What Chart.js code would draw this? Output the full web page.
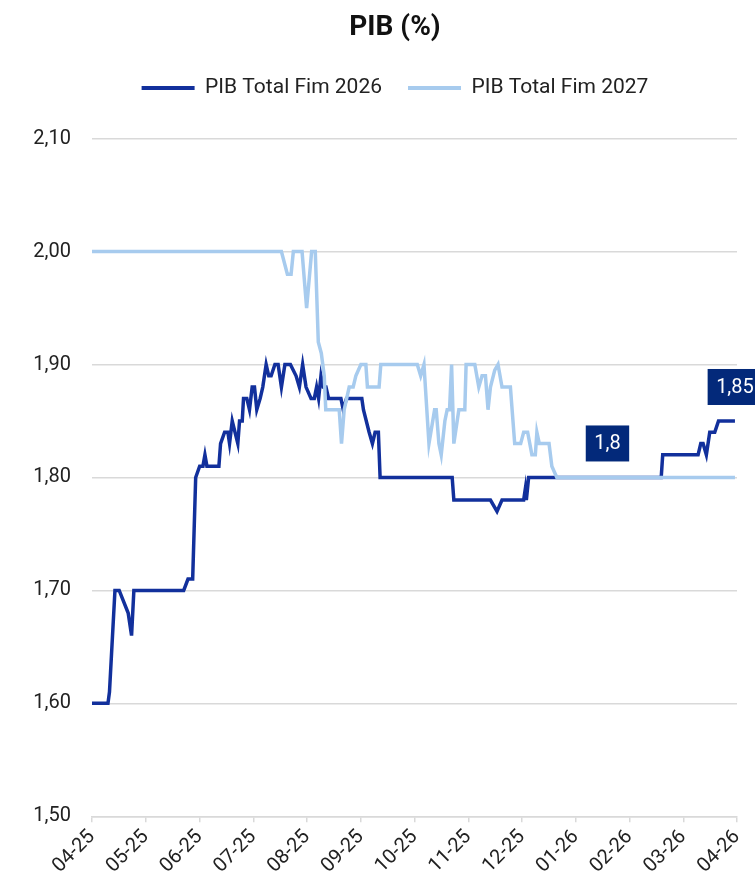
<!DOCTYPE html>
<html>
<head>
<meta charset="utf-8">
<script src="https://cdn.jsdelivr.net/npm/chart.js@4/dist/chart.umd.min.js"></script>
<style>
  html, body { margin: 0; padding: 0; background: #fff; overflow: hidden; }
  .wrap { width: 790px; height: 891px; }
</style>
</head>
<body>
<div class="wrap"><canvas id="pibChart" width="790" height="891"></canvas></div>
<script>
// x values are in months from 04-25 (0) to 04-26 (12)
const monthLabels = ['04-25', '05-25', '06-25', '07-25', '08-25', '09-25', '10-25', '11-25', '12-25', '01-26', '02-26', '03-26', '04-26'];
const yTicks = [1.5, 1.6, 1.7, 1.8, 1.9, 2.0, 2.1];

const pib2026X = [0, 0.297, 0.325, 0.427, 0.506, 0.673, 0.736, 0.779, 1.706, 1.786, 1.873, 1.929, 2.003, 2.064, 2.101, 2.138,
  2.361, 2.392, 2.467, 2.528, 2.559, 2.609, 2.713, 2.745, 2.795, 2.819, 2.880, 2.930, 2.980, 3.023, 3.066, 3.129, 3.177,
  3.240, 3.288, 3.333, 3.403, 3.463, 3.524, 3.589, 3.691, 3.796, 3.858, 3.919, 3.982, 4.075, 4.136, 4.178, 4.216, 4.260,
  4.303, 4.353, 4.401, 4.631, 4.674, 4.735, 5.020, 5.050, 5.156, 5.217, 5.267, 5.328, 5.360, 6.701, 6.732, 7.413, 7.535,
  7.628, 8.031, 8.062, 8.081, 8.123, 10.590, 10.618, 11.276, 11.326, 11.369, 11.430, 11.493, 11.586, 11.656, 11.962];
const pib2026 = [1.60, 1.60, 1.61, 1.70, 1.70, 1.68, 1.66, 1.70, 1.70, 1.71, 1.71, 1.80, 1.81, 1.81, 1.82, 1.81,
  1.81, 1.83, 1.84, 1.84, 1.83, 1.85, 1.83, 1.85, 1.85, 1.87, 1.87, 1.86, 1.88, 1.88, 1.86, 1.87, 1.88,
  1.90, 1.89, 1.89, 1.90, 1.90, 1.88, 1.90, 1.90, 1.89, 1.88, 1.90, 1.88, 1.87, 1.87, 1.88, 1.87, 1.89,
  1.88, 1.88, 1.87, 1.87, 1.86, 1.87, 1.87, 1.86, 1.84, 1.83, 1.84, 1.84, 1.80, 1.80, 1.78, 1.78, 1.77,
  1.78, 1.78, 1.79, 1.78, 1.80, 1.80, 1.82, 1.82, 1.83, 1.83, 1.82, 1.84, 1.84, 1.85, 1.85];

const pib2027X = [0, 3.524, 3.635, 3.704, 3.746, 3.908, 3.993, 4.086, 4.154, 4.210, 4.266, 4.321, 4.349, 4.599, 4.642,
  4.692, 4.785, 4.859, 4.909, 5.002, 5.095, 5.124, 5.341, 5.373, 6.052, 6.115, 6.176, 6.269, 6.374, 6.404, 6.454, 6.497,
  6.565, 6.608, 6.652, 6.690, 6.732, 6.825, 6.936, 6.960, 7.122, 7.196, 7.257, 7.320, 7.368, 7.413, 7.493, 7.554, 7.628,
  7.784, 7.864, 7.975, 8.031, 8.105, 8.184, 8.248, 8.277, 8.322, 8.503, 8.555, 8.648, 11.962];
const pib2027 = [2.00, 2.00, 1.98, 1.98, 2.00, 2.00, 1.95, 2.00, 2.00, 1.92, 1.91, 1.89, 1.86, 1.86, 1.83,
  1.86, 1.88, 1.88, 1.89, 1.90, 1.90, 1.88, 1.88, 1.90, 1.90, 1.89, 1.90, 1.83, 1.86, 1.86, 1.83, 1.82,
  1.85, 1.86, 1.86, 1.90, 1.83, 1.86, 1.86, 1.90, 1.90, 1.88, 1.89, 1.89, 1.86, 1.88, 1.895, 1.90, 1.88,
  1.88, 1.83, 1.83, 1.84, 1.84, 1.82, 1.82, 1.84, 1.83, 1.83, 1.81, 1.80, 1.80];

function toPoints(xs, ys) {
  return xs.map((x, i) => ({ x: x, y: ys[i] }));
}

const darkBlue = '#12309c';
const lightBlue = '#a7cbee';
const labelBg = '#03297a';
const fontFamily = 'Roboto, "Noto Sans", sans-serif';

// extra gap under the legend
const legendGap = {
  id: 'legendGap',
  beforeInit(chart) {
    const fit = chart.legend.fit;
    chart.legend.fit = function() {
      fit.bind(chart.legend)();
      this.height += 30;
    };
  }
};

// value boxes ("1,8" and "1,85")
const valueBoxes = {
  id: 'valueBoxes',
  afterDatasetsDraw(chart) {
    const ctx = chart.ctx;
    const xScale = chart.scales.x;
    const yScale = chart.scales.y;
    const boxes = [
      { text: '1,8', x: 9.59, y: pib2027[pib2027.length - 1] },
      { text: '1,85', x: pib2026X[pib2026X.length - 1], y: pib2026[pib2026.length - 1] }
    ];
    ctx.save();
    ctx.font = '20px ' + fontFamily;
    ctx.textAlign = 'center';
    ctx.textBaseline = 'middle';
    boxes.forEach(b => {
      const px = xScale.getPixelForValue(b.x);
      const py = yScale.getPixelForValue(b.y) - 34;
      const w = ctx.measureText(b.text).width + 17;
      const h = 36;
      ctx.fillStyle = labelBg;
      ctx.fillRect(px - w / 2, py - h / 2, w, h);
      ctx.fillStyle = '#fff';
      ctx.fillText(b.text, px, py + 1);
    });
    ctx.restore();
  }
};

const ctx = document.getElementById('pibChart').getContext('2d');
const pibChart = new Chart(ctx, {
  type: 'line',
  data: {
    datasets: [{
      label: 'PIB Total Fim 2026',
      data: toPoints(pib2026X, pib2026),
      borderColor: darkBlue,
      backgroundColor: darkBlue,
      borderWidth: 3.5,
      pointRadius: 0,
      tension: 0,
      order: 2
    }, {
      label: 'PIB Total Fim 2027',
      data: toPoints(pib2027X, pib2027),
      borderColor: lightBlue,
      backgroundColor: lightBlue,
      borderWidth: 3.5,
      pointRadius: 0,
      tension: 0,
      order: 1
    }]
  },
  options: {
    responsive: false,
    animation: false,
    layout: {
      padding: { left: 0, right: 0, top: 0, bottom: 10 }
    },
    plugins: {
      title: {
        display: true,
        text: 'PIB (%)',
        color: '#111',
        font: { family: fontFamily, size: 28, weight: 'bold' },
        padding: { top: 11, bottom: 7 }
      },
      legend: {
        position: 'top',
        labels: {
          color: '#222',
          font: { family: fontFamily, size: 21 },
          boxWidth: 53,
          boxHeight: 4,
          padding: 26,
          sort: (a, b) => a.datasetIndex - b.datasetIndex,
          generateLabels: function(chart) {
            const items = Chart.defaults.plugins.legend.labels.generateLabels(chart);
            items.forEach(item => { item.lineWidth = 0; });
            return items;
          }
        }
      },
      tooltip: { enabled: false }
    },
    scales: {
      x: {
        type: 'linear',
        min: 0,
        max: 12,
        afterBuildTicks: function(axis) {
          axis.ticks = monthLabels.map((m, i) => ({ value: i }));
        },
        ticks: {
          autoSkip: false,
          maxRotation: 45,
          minRotation: 45,
          color: '#222',
          font: { family: fontFamily, size: 20 },
          callback: function(value) {
            return monthLabels[value];
          }
        },
        grid: {
          drawOnChartArea: false,
          drawTicks: true,
          tickLength: 6,
          color: '#d9d9d9',
          lineWidth: 1.5
        },
        border: { display: true, color: '#d9d9d9', width: 1.5 }
      },
      y: {
        min: 1.5,
        max: 2.1,
        afterBuildTicks: function(axis) {
          axis.ticks = yTicks.map(v => ({ value: v }));
        },
        afterFit: function(axis) {
          axis.width = 92;
        },
        ticks: {
          color: '#222',
          padding: 21,
          font: { family: fontFamily, size: 20 },
          callback: function(value) {
            return value.toFixed(2).replace('.', ',');
          }
        },
        grid: {
          color: '#d9d9d9',
          lineWidth: 1.5,
          drawTicks: false
        },
        border: { display: false }
      },
      // empty right-hand axis, only reserves the space the original crop cut off
      yRight: {
        position: 'right',
        display: true,
        afterFit: function(axis) {
          axis.width = 53;
        },
        ticks: { display: false },
        grid: { display: false },
        border: { display: false }
      }
    }
  },
  plugins: [legendGap, valueBoxes]
});
</script>
</body>
</html>
